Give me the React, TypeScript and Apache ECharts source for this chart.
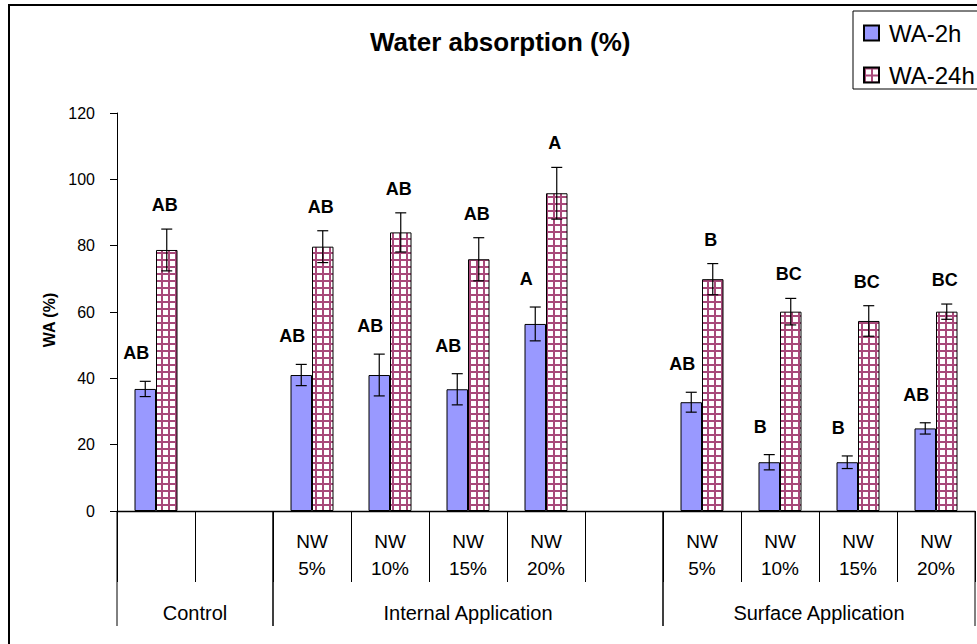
import React, { useEffect, useRef } from "react";
import * as echarts from "echarts";

// ---------- data ----------
const categories = ["", "", "NW\n5%", "NW\n10%", "NW\n15%", "NW\n20%", "", "NW\n5%", "NW\n10%", "NW\n15%", "NW\n20%"];
const seriesNames = ["WA-2h", "WA-24h"];
const wa2h: (number | null)[] = [36.8, null, 41.0, 41.0, 36.7, 56.4, null, 32.8, 14.7, 14.7, 24.9];
const wa24h: (number | null)[] = [78.7, null, 79.7, 84.0, 75.9, 95.8, null, 69.9, 60.1, 57.3, 60.1];
const err2h: (number | null)[] = [2.3, null, 3.2, 6.3, 4.7, 5.1, null, 3.0, 2.3, 1.9, 1.7];
const err24h: (number | null)[] = [6.3, null, 4.8, 5.9, 6.5, 7.8, null, 4.7, 4.0, 4.6, 2.3];
const sig2h = ["AB", "", "AB", "AB", "AB", "A", "", "AB", "B", "B", "AB"];
const sig24h = ["AB", "", "AB", "AB", "AB", "A", "", "B", "BC", "BC", "BC"];
const groupNames = ["Control", "Internal Application", "Surface Application"];
const groupStart = [0, 2, 7];
const groupEnd = [1, 6, 10];
const yMin = 0;
const yMax = 120;
const yStep = 20;

const FONT = "'Liberation Sans', Arial, Helvetica, sans-serif";

function makeGridPattern(): HTMLCanvasElement {
  const s = 7;
  const c = document.createElement("canvas");
  c.width = s;
  c.height = s;
  const ctx = c.getContext("2d")!;
  ctx.fillStyle = "#ffffff";
  ctx.fillRect(0, 0, s, s);
  ctx.fillStyle = "#a8497a";
  ctx.fillRect(0, 0, s, 2);
  ctx.fillRect(0, 0, 2, s);
  return c;
}

export default function App() {
  const ref = useRef<HTMLDivElement>(null);

  useEffect(() => {
    const chart = echarts.init(ref.current!, null, { renderer: "svg" });
    const BAR_W = 21.5;
    const canvas = makeGridPattern();
    const pattern: any = { image: canvas, repeat: "repeat", imageWidth: 7, imageHeight: 7 };

    const errSeries = (vals: (number | null)[], errs: (number | null)[], sig: string[], dx: number, labelDx: number, gap: number) => ({
      type: "custom",
      silent: true,
      clip: false,
      z: 5,
      encode: { x: 0, y: [1, 2] },
      data: vals
        .map((v, i) => (v == null ? null : [i, v - (errs[i] as number), v + (errs[i] as number)]))
        .filter((d) => d !== null),
      renderItem: (_params: any, api: any) => {
        const i = api.value(0);
        const pHi = api.coord([i, api.value(2)]);
        const pLo = api.coord([i, api.value(1)]);
        const x = pHi[0] + dx;
        const ls = { stroke: "#000", lineWidth: 1.2 };
        return {
          type: "group",
          children: [
            { type: "line", shape: { x1: x, y1: pHi[1], x2: x, y2: pLo[1] }, style: ls },
            { type: "line", shape: { x1: x - 5.5, y1: pHi[1], x2: x + 5.5, y2: pHi[1] }, style: ls },
            { type: "line", shape: { x1: x - 5.5, y1: pLo[1], x2: x + 5.5, y2: pLo[1] }, style: ls },
            {
              type: "text",
              x: x + labelDx,
              y: pHi[1] - gap,
              style: {
                text: sig[i],
                fontFamily: FONT,
                fontSize: 18,
                fontWeight: "bold",
                fill: "#000",
                align: "center",
                verticalAlign: "middle",
              },
            },
          ],
        };
      },
    });

    const option: any = {
      animation: false,
      backgroundColor: "#ffffff",
      textStyle: { fontFamily: FONT },
      title: {
        text: "Water absorption (%)",
        left: 370,
        top: 27,
        padding: 0,
        textStyle: { fontFamily: FONT, fontSize: 26, fontWeight: "bold", color: "#000", lineHeight: 30 },
      },
      legend: {
        data: seriesNames,
        orient: "vertical",
        left: 853,
        top: 11,
        padding: [10, 20, 2, 10],
        itemGap: 18,
        itemWidth: 15,
        itemHeight: 15,
        icon: "rect",
        borderColor: "#000",
        borderWidth: 1,
        backgroundColor: "#fff",
        textStyle: { fontFamily: FONT, fontSize: 24, lineHeight: 24, color: "#000", padding: [0, 0, 0, 5] },
      },
      grid: { left: 117, right: 2, top: 113, bottom: 133, containLabel: false },
      xAxis: {
        type: "category",
        data: categories,
        axisLine: { show: true, lineStyle: { color: "#000", width: 1.3 } },
        axisTick: { show: true, interval: 0, length: 71, alignWithLabel: false, lineStyle: { color: "#000", width: 1 } },
        axisLabel: { interval: 0, margin: 17, fontSize: 19, lineHeight: 27, color: "#000", fontFamily: FONT },
        splitLine: { show: false },
      },
      yAxis: {
        type: "value",
        min: yMin,
        max: yMax,
        interval: yStep,
        name: "WA (%)",
        nameLocation: "middle",
        nameGap: 58,
        nameTextStyle: { fontFamily: FONT, fontSize: 16, fontWeight: "bold", color: "#000", padding: [0, 16, 0, 0] },
        axisLine: { show: true, lineStyle: { color: "#000", width: 1 } },
        axisTick: { show: true, inside: false, length: 7, lineStyle: { color: "#000", width: 1 } },
        axisLabel: { margin: 22, fontSize: 16, color: "#000", fontFamily: FONT },
        splitLine: { show: false },
      },
      graphic: [
        {
          type: "rect",
          silent: true,
          shape: { x: 9, y: 5, width: 1100, height: 800 },
          style: { fill: "none", stroke: "#000", lineWidth: 2 },
        },
      ],
      series: [
        {
          name: seriesNames[0],
          type: "bar",
          barWidth: BAR_W,
          barGap: "0%",
          data: wa2h.map((v) => (v == null ? "-" : v)),
          itemStyle: { color: "#9999ff", borderColor: "#000", borderWidth: 1 },
        },
        {
          name: seriesNames[1],
          type: "bar",
          barWidth: BAR_W,
          barGap: "0%",
          data: wa24h.map((v) => (v == null ? "-" : v)),
          itemStyle: { color: pattern, borderColor: "#000", borderWidth: 1 },
        },
        errSeries(wa2h, err2h, sig2h, -BAR_W / 2, -9, 28),
        errSeries(wa24h, err24h, sig24h, BAR_W / 2, -2, 24),
        {
          type: "custom",
          silent: true,
          clip: false,
          encode: { x: [0, 1], y: 2 },
          data: groupStart.map((s, i) => [s, groupEnd[i], 0]),
          renderItem: (params: any, api: any) => {
            const s = api.value(0);
            const e = api.value(1);
            const band = api.size([1, 0])[0];
            const p0 = api.coord([s, 0]);
            const p1 = api.coord([e, 0]);
            const x0 = p0[0] - band / 2;
            const x1 = p1[0] + band / 2;
            const y = p0[1];
            const ls = { stroke: "#000", lineWidth: 1 };
            return {
              type: "group",
              children: [
                { type: "line", shape: { x1: x0, y1: y, x2: x0, y2: y + 115 }, style: ls },
                { type: "line", shape: { x1: x1, y1: y, x2: x1, y2: y + 115 }, style: ls },
                {
                  type: "text",
                  x: (x0 + x1) / 2,
                  y: y + 102,
                  style: {
                    text: groupNames[params.dataIndex],
                    fontFamily: FONT,
                    fontSize: 20,
                    fill: "#000",
                    align: "center",
                    verticalAlign: "middle",
                  },
                },
              ],
            };
          },
        },
      ],
    };
    chart.setOption(option);
    return () => chart.dispose();
  }, []);

  return <div ref={ref} style={{ position: "fixed", left: 0, top: 0, width: 977, height: 644 }} />;
}
